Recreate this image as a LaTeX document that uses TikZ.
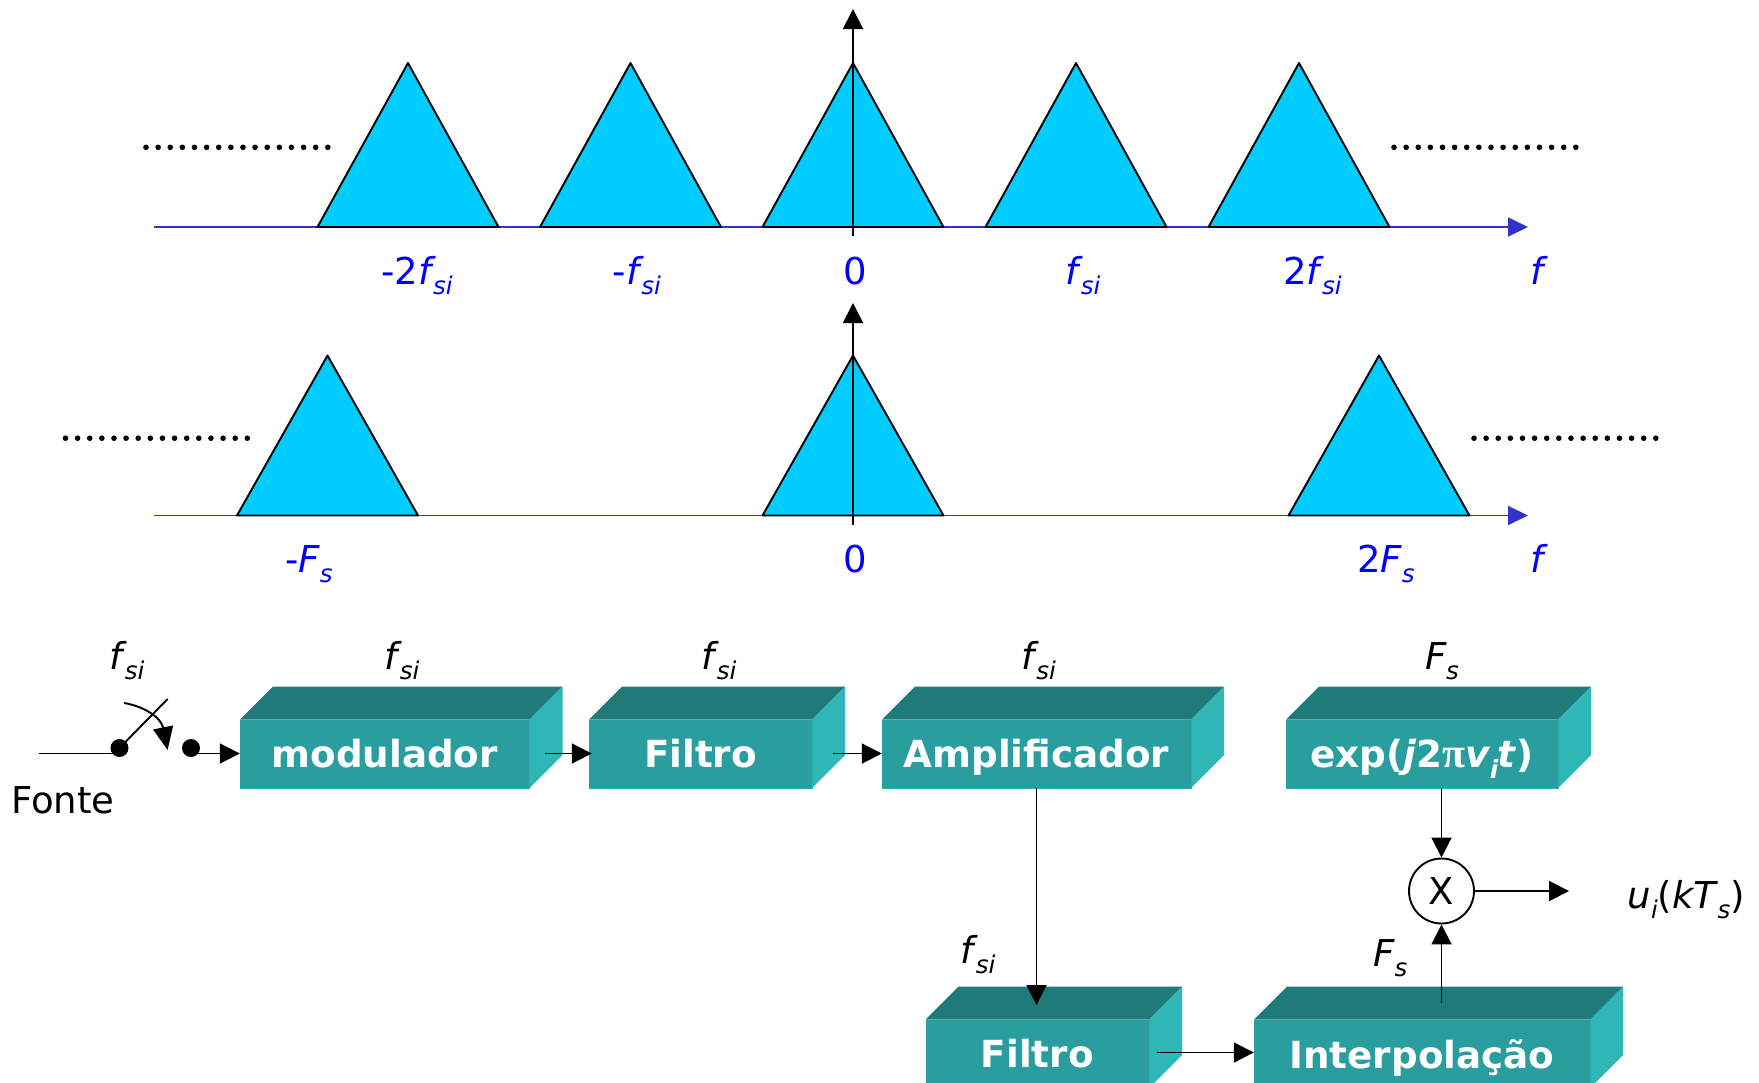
\documentclass[tikz,border=0pt]{standalone}
\usepackage{fontspec}
\usepackage{graphicx}
\setmainfont{DejaVu Sans}
\newfontfamily\pifont{Liberation Serif}
\usetikzlibrary{arrows.meta,calc}
\definecolor{tri}{HTML}{00CCFF}
\definecolor{axisblue}{HTML}{3333CC}
\definecolor{labblue}{HTML}{0000FF}
\definecolor{bfront}{HTML}{2A9D9E}
\definecolor{btop}{HTML}{207A7A}
\definecolor{bside}{HTML}{2FB6B6}
\newcommand{\subtxt}[1]{\raisebox{-0.28em}{\fontsize{24.5}{24.5}\selectfont\itshape #1}}
\newcommand{\fsi}{\textit{f}\kern-0.07em\subtxt{si}}
\newcommand{\Fs}{\textit{F}\kern-0.02em\subtxt{s}}
% \tdbox{name}{x0}{x1}{front top y}{text}
\newcommand{\tdbox}[5]{%
  \fill[btop] (#2,#4) -- (#2+33,#4-33) -- (#3+33,#4-33) -- (#3,#4) -- cycle;
  \fill[bside] (#3,#4) -- (#3+33,#4-33) -- (#3+33,#4+35.5) -- (#3,#4+68.5) -- cycle;
  \node[boxfront, minimum width=#3pt-#2pt] (#1) at ({(#2+#3)/2},#4+34.25) {#5};
  \draw[bside!60!bfront,line width=1.4pt] (#1.north east) -- (#1.south east) -- (#1.south west);
}
\tikzset{
  x=1pt,y=-1pt,
  boxfront/.style={fill=bfront,text=white,font=\fontsize{37.3}{37.3}\selectfont\bfseries,minimum height=68.5pt,inner sep=0pt,text depth=0pt},
  triangleshape/.style={fill=tri,draw=black,line width=1.9pt,line join=round},
  faxis/.style={draw=axisblue,line width=1.9pt,-{Triangle[length=20pt,width=19pt,fill=axisblue]}},
  vaxis/.style={draw=black,line width=1.9pt,-{Triangle[length=20pt,width=20pt,fill=black]}},
  conn/.style={draw=black,line width=1.9pt,-{Triangle[length=20pt,width=20pt,fill=black]}},
  bluelab/.style={anchor=base,text=labblue,font=\fontsize{37}{37}\selectfont,inner sep=0pt},
  blacklab/.style={anchor=base,text=black,font=\fontsize{37}{37}\selectfont,inner sep=0pt},
  dotrow/.style={line width=5.6pt,line cap=round,dash pattern=on 0pt off 12.12pt},
  swdot/.style={circle,fill=black,minimum size=18pt,inner sep=0pt},
}
\begin{document}
\begin{tikzpicture}
\clip (0,0) rectangle (1759,1082);
% spectrum 1
\coordinate (a1l) at (154,227);
\coordinate (a1r) at (1528,227);
\draw[faxis] (a1l) -- (a1r);
\foreach \c in {408,630.5,853,1076,1299}
  \draw[triangleshape] (\c-90.5,227) -- (\c,63) -- (\c+90.5,227) -- cycle;
\coordinate (v1b) at (853,236);
\coordinate (v1t) at (853,9);
\draw[vaxis] (v1b) -- (v1t);
\draw[dotrow] (146,147.3) -- (329,147.3);
\draw[dotrow] (1394,147.3) -- (1577,147.3);
\node[bluelab] (l1) at (417,284) {-2\fsi};
\node[bluelab] (l2) at (637,284) {-\fsi};
\node[bluelab] (l3) at (855,284) {0};
\node[bluelab] (l4) at (1083,284) {\fsi};
\node[bluelab] (l5) at (1312.5,284) {2\fsi};
\node[bluelab] (l6) at (1539,284) {\textit{f}};
% spectrum 2
\coordinate (a2l) at (154,515.5);
\coordinate (a2r) at (1528,515.5);
\draw[faxis] (a2l) -- (a2r);
\foreach \c in {327.5,853,1379}
  \draw[triangleshape] (\c-90.5,515.5) -- (\c,355.5) -- (\c+90.5,515.5) -- cycle;
\coordinate (v2b) at (853,525);
\coordinate (v2t) at (853,303);
\draw[vaxis] (v2b) -- (v2t);
\draw[dotrow] (65.5,438.2) -- (248.5,438.2);
\draw[dotrow] (1474,438.2) -- (1657,438.2);
\node[bluelab] (m1) at (309,572) {-\Fs};
\node[bluelab] (m2) at (855,572) {0};
\node[bluelab] (m3) at (1386,572) {2\Fs};
\node[bluelab] (m4) at (1539,572) {\textit{f}};
% boxes
\tdbox{mod}{240}{529.5}{719.5}{modulador}
\tdbox{fil}{589}{812}{719.5}{Filtro}
\tdbox{amp}{882}{1191}{719.5}{Amplificador}
\tdbox{expb}{1286}{1558}{719.5}{exp(\textit{j}2{\pifont\fontsize{42}{42}\selectfont π}\textit{v}\kern-0.03em\raisebox{-0.28em}{\fontsize{25}{25}\selectfont\textit{i}}\kern-0.03em\textit{t})}
\tdbox{fil2}{925.5}{1149}{1019.5}{Filtro}
\tdbox{int}{1254}{1590}{1019.5}{Interpolação}
% box labels
\node[blacklab] (t0) at (127,669) {\fsi};
\node[blacklab] (t1) at (402,669) {\fsi};
\node[blacklab] (t2) at (719,669) {\fsi};
\node[blacklab] (t3) at (1038.5,669) {\fsi};
\node[blacklab] (t4) at (1442,669) {\Fs};
\node[blacklab] (t5) at (978,963) {\fsi};
\node[blacklab] (t6) at (1390.5,966) {\Fs};
\node[blacklab] (fonte) at (63,813) {Fonte};
\node[blacklab,anchor=base west] (out) at (1627.5,908) {\textit{u}\subtxt{i}(\textit{kT}\kern-0.03em\subtxt{s})};
% switch
\coordinate (src) at (39,753.5);
\node[swdot] (d1) at (119.5,748) {};
\node[swdot] (d2) at (191,748) {};
\coordinate (lev) at (167.6,699);
\draw[line width=1.9pt] (src) -- (119.5,753.5);
\draw[line width=1.9pt] (d1.center) -- (lev);
\coordinate (as) at (124,703);
\coordinate (ae) at (167.6,750);
\draw[line width=1.9pt,-{Triangle[length=23pt,width=20pt,fill=black]}] (as) .. controls (143,706) and (161,717) .. (ae);
% connectors
\coordinate (c1s) at (191,753.5);
\draw[conn] (c1s) -- (mod.west |- c1s);
\coordinate (c2s) at (545,753.5);
\draw[conn,shorten >=-3pt] (c2s) -- (fil.west |- c2s);
\coordinate (c3s) at (833,753.5);
\draw[conn] (c3s) -- (amp.west |- c3s);
\coordinate (c4e) at (1036.5,1005);
\draw[conn] (amp.south) -- (c4e);
\coordinate (c5s) at (1157,1052.5);
\draw[conn] (c5s) -- (int.west |- c5s);
\node[circle,draw=black,line width=1.9pt,minimum size=65pt,inner sep=0pt,font=\fontsize{37}{37}\selectfont] (mul) at (1441.5,891) {X};
\coordinate (c8s) at (1441.5,788);
\draw[conn] (c8s) -- (mul.north);
\coordinate (c6s) at (1441.5,1003);
\draw[conn] (c6s) -- (mul.south);
\coordinate (c7e) at (1569,891);
\draw[conn] (mul.east) -- (c7e);
\end{tikzpicture}
\end{document}
